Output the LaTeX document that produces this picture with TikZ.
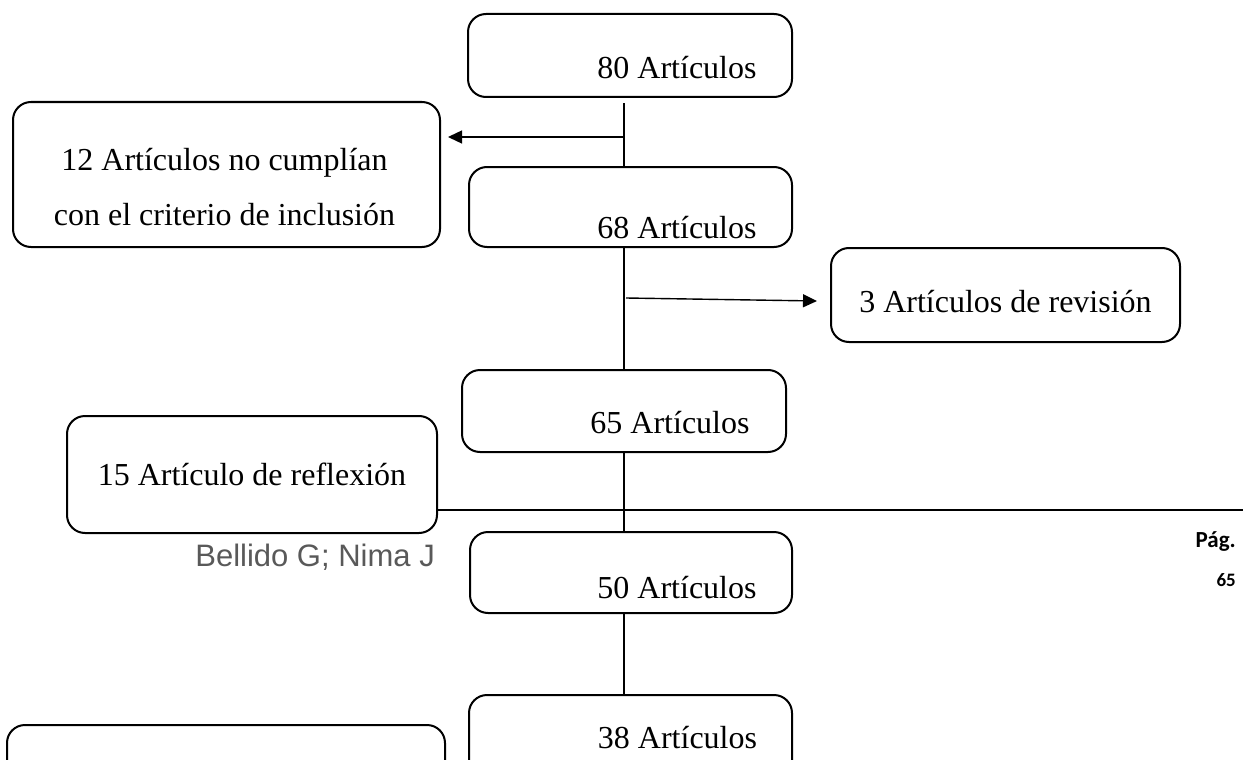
\documentclass[tikz,border=0pt]{standalone}
\usepackage{fontspec}
\setmainfont{Liberation Serif}
\newfontfamily\footsans{Liberation Sans}
\newfontfamily\pagfont{Carlito}
\usetikzlibrary{arrows.meta}
\definecolor{footgray}{HTML}{595959}
\tikzset{
  box/.style={draw=black, line width=2pt, rounded corners=18pt, fill=white, inner sep=0pt},
  lbl/.style={font=\fontsize{32}{55}\selectfont, inner sep=0pt, align=center},
  conn/.style={draw=black, line width=1.4pt},
  arr/.style={conn, -{Triangle[length=14pt,width=13pt]}},
  footline/.style={draw=black, line width=2pt}
}
\begin{document}
\begin{tikzpicture}[x=1pt, y=-1pt]
\useasboundingbox (0,0) rectangle (1243,760);
\clip (0,0) rectangle (1243,760);
% boxes
\node[box, minimum width=324pt, minimum height=83pt, label={[lbl, xshift=47pt, yshift=-12pt]center:80 Artículos}] (n80) at (630,55.5) {};
\node[box, minimum width=427pt, minimum height=145pt, label={[lbl, xshift=-2pt, yshift=-13pt]center:12 Artículos no cumplían\\con el criterio de inclusión}] (n12) at (226.5,174.5) {};
\node[box, minimum width=323pt, minimum height=80pt, label={[lbl, xshift=46.5pt, yshift=-21pt]center:68 Artículos}] (n68) at (630.5,207) {};
\node[box, minimum width=349pt, minimum height=94pt, label={[lbl, yshift=-7pt]center:3 Artículos de revisión}] (n3) at (1005.5,295) {};
\node[box, minimum width=324pt, minimum height=82pt, label={[lbl, xshift=46pt, yshift=-12pt]center:65 Artículos}] (n65) at (624,411) {};
\node[box, minimum width=370pt, minimum height=117pt, label={[lbl]center:15 Artículo de reflexión}] (n15) at (252,474.5) {};
\node[box, minimum width=322pt, minimum height=81pt, label={[lbl, xshift=46pt, yshift=-15.5pt]center:50 Artículos}] (n50) at (631,572.5) {};
\node[box, minimum width=323pt, minimum height=100pt, label={[lbl, xshift=47pt, yshift=7pt]center:38 Artículos}] (n38) at (630.5,745) {};
\node[box, minimum width=438pt, minimum height=120pt] (nbl) at (226,785) {};
% connectors
\coordinate (t1) at (624,103);
\coordinate (b1) at (624,137);
\coordinate (a1) at (448,137);
\coordinate (b2) at (626,298);
\coordinate (a2) at (817,301);
\draw[conn] (t1) -- (t1 |- n68.north);
\draw[arr] (b1) -- (a1);
\draw[conn] (t1 |- n68.south) -- (t1 |- n65.north);
\draw[arr] (b2) -- (a2);
\draw[conn] (n65.south) -- (n65.south |- n50.north);
\draw[conn] (t1 |- n50.south) -- (t1 |- n38.north);
% footer
\coordinate (fl) at (437,510);
\coordinate (fr) at (1243,510);
\draw[footline] (fl) -- (fr);
\node[font=\footsans\fontsize{31}{31}\selectfont, text=footgray, anchor=east, inner sep=0pt] (auth) at (435,557) {Bellido G; Nima J};
\node[font=\pagfont\bfseries\fontsize{23}{23}\selectfont, anchor=east, inner sep=0pt] (pag) at (1236,542) {Pág.};
\node[font=\pagfont\bfseries\fontsize{19}{19}\selectfont, anchor=east, inner sep=0pt] (pnum) at (1236,580) {65};
\end{tikzpicture}
\end{document}
